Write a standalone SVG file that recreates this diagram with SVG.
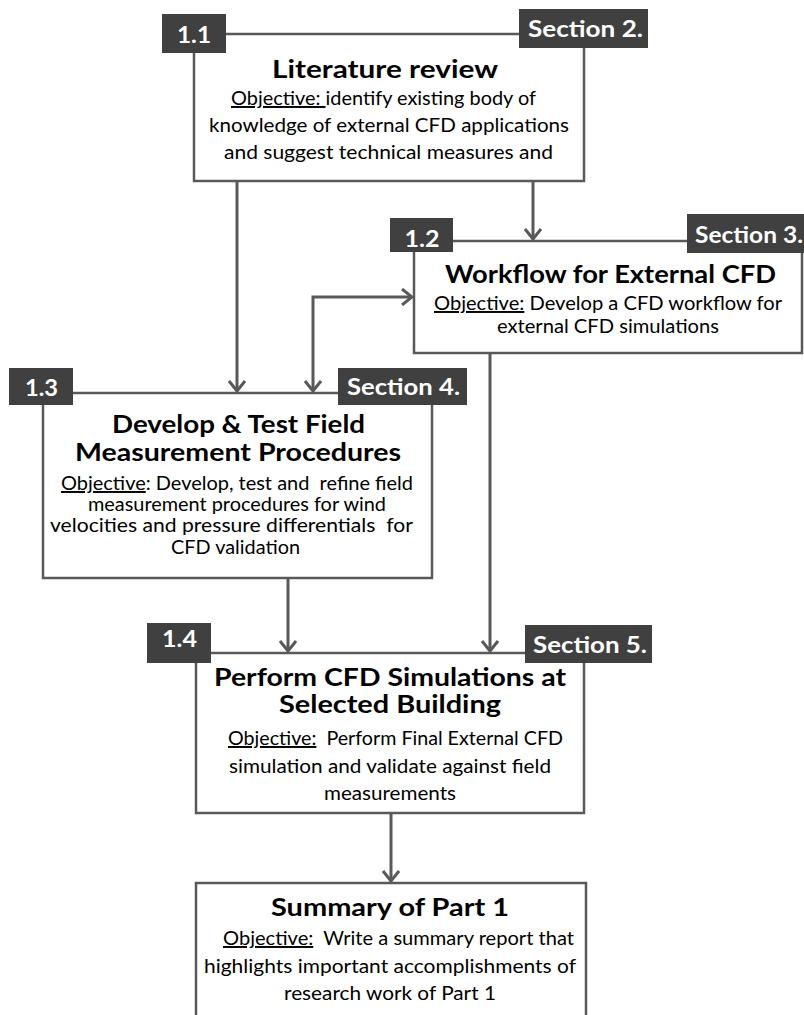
<svg xmlns="http://www.w3.org/2000/svg" width="804" height="1015" viewBox="0 0 804 1015">
<style>
.box{fill:#fff;stroke:#595959;stroke-width:2.5}
.lbl{fill:#404040}
.lt{font-family:Lato,"Liberation Sans",sans-serif;font-weight:bold;font-size:23.5px;fill:#fff;text-anchor:middle}
.title{font-family:Lato,"Liberation Sans",sans-serif;font-weight:bold;font-size:25px;fill:#000;text-anchor:middle}
.body{font-family:Lato,"Liberation Sans",sans-serif;font-size:19.5px;fill:#000;text-anchor:middle}
.u{text-decoration:underline}
.con{fill:none;stroke:#595959;stroke-width:3}
</style>
<defs>
<marker id="ah" viewBox="0 0 12 18" refX="11" refY="9" markerWidth="12" markerHeight="18" markerUnits="userSpaceOnUse" orient="auto-start-reverse">
<path d="M1,1 L11,9 L1,17" fill="none" stroke="#595959" stroke-width="3"/>
</marker>
</defs>
<g id="connectors">
<line class="con" x1="237" y1="181" x2="237" y2="391" marker-end="url(#ah)"/>
<line class="con" x1="533" y1="181" x2="533" y2="239" marker-end="url(#ah)"/>
<path class="con" d="M313,391 L313,297 L412,297" marker-start="url(#ah)" marker-end="url(#ah)"/>
<line class="con" x1="490" y1="353" x2="490" y2="651" marker-end="url(#ah)"/>
<line class="con" x1="288" y1="578" x2="288" y2="651" marker-end="url(#ah)"/>
<line class="con" x1="391" y1="813" x2="391" y2="881" marker-end="url(#ah)"/>
</g>
<g id="node-1-1">
<rect class="box" x="194" y="34" width="390" height="147"/>
<rect class="lbl" x="162" y="14" width="64" height="39"/>
<text class="lt" x="194" y="43" textLength="34" lengthAdjust="spacingAndGlyphs">1.1</text>
<rect class="lbl" x="519" y="9" width="129" height="39"/>
<text class="lt" x="585.5" y="37" textLength="115" lengthAdjust="spacingAndGlyphs">Section 2.</text>
<text class="title" x="385" y="78" textLength="226" lengthAdjust="spacingAndGlyphs">Literature review</text>
<text class="body" x="383.5" y="105" textLength="305" lengthAdjust="spacingAndGlyphs" xml:space="preserve"><tspan class="u">Objective: </tspan>identify existing body of</text>
<text class="body" x="389" y="132" textLength="360" lengthAdjust="spacingAndGlyphs">knowledge of external CFD applications</text>
<text class="body" x="388.5" y="159" textLength="329" lengthAdjust="spacingAndGlyphs">and suggest technical measures and</text>
</g>
<g id="node-1-2">
<rect class="box" x="414" y="241" width="388" height="112"/>
<rect class="lbl" x="390" y="218" width="63" height="34"/>
<text class="lt" x="422" y="247" textLength="35" lengthAdjust="spacingAndGlyphs">1.2</text>
<rect class="lbl" x="687" y="214" width="130" height="39"/>
<text class="lt" x="749" y="243" textLength="108" lengthAdjust="spacingAndGlyphs">Section 3.</text>
<text class="title" x="610.5" y="283" textLength="331" lengthAdjust="spacingAndGlyphs">Workflow for External CFD</text>
<text class="body" x="608" y="310" textLength="348" lengthAdjust="spacingAndGlyphs"><tspan class="u">Objective:</tspan> Develop a CFD workflow for</text>
<text class="body" x="608" y="333" textLength="222" lengthAdjust="spacingAndGlyphs">external CFD simulations</text>
</g>
<g id="node-1-3">
<rect class="box" x="43" y="393" width="389" height="185"/>
<rect class="lbl" x="9" y="368" width="64" height="37"/>
<text class="lt" x="41.5" y="396" textLength="33" lengthAdjust="spacingAndGlyphs">1.3</text>
<rect class="lbl" x="338" y="368" width="129" height="37"/>
<text class="lt" x="403.5" y="395" textLength="113" lengthAdjust="spacingAndGlyphs">Section 4.</text>
<text class="title" x="238.5" y="433" textLength="253" lengthAdjust="spacingAndGlyphs">Develop &amp; Test Field</text>
<text class="title" x="238" y="461" textLength="326" lengthAdjust="spacingAndGlyphs">Measurement Procedures</text>
<text class="body" x="237" y="490" textLength="352" lengthAdjust="spacingAndGlyphs" xml:space="preserve"><tspan class="u">Objective</tspan>: Develop, test and  refine field</text>
<text class="body" x="237" y="511" textLength="298" lengthAdjust="spacingAndGlyphs">measurement procedures for wind</text>
<text class="body" x="231.5" y="532" textLength="363" lengthAdjust="spacingAndGlyphs" xml:space="preserve">velocities and pressure differentials  for</text>
<text class="body" x="235.5" y="554" textLength="129" lengthAdjust="spacingAndGlyphs">CFD validation</text>
</g>
<g id="node-1-4">
<rect class="box" x="196" y="653" width="388" height="160"/>
<rect class="lbl" x="147" y="623" width="64" height="40"/>
<text class="lt" x="179.5" y="647" textLength="35" lengthAdjust="spacingAndGlyphs">1.4</text>
<rect class="lbl" x="525" y="625" width="127" height="38"/>
<text class="lt" x="590" y="653" textLength="114" lengthAdjust="spacingAndGlyphs">Section 5.</text>
<text class="title" x="390" y="686" textLength="352" lengthAdjust="spacingAndGlyphs">Perform CFD Simulations at</text>
<text class="title" x="390" y="713" textLength="222" lengthAdjust="spacingAndGlyphs">Selected Building</text>
<text class="body" x="395.5" y="745" textLength="335" lengthAdjust="spacingAndGlyphs" xml:space="preserve"><tspan class="u">Objective:</tspan>  Perform Final External CFD</text>
<text class="body" x="390" y="773" textLength="322" lengthAdjust="spacingAndGlyphs">simulation and validate against field</text>
<text class="body" x="390" y="800" textLength="132" lengthAdjust="spacingAndGlyphs">measurements</text>
</g>
<g id="node-summary">
<rect class="box" x="196" y="883" width="390" height="140"/>
<text class="title" x="390" y="916" textLength="238" lengthAdjust="spacingAndGlyphs">Summary of Part 1</text>
<text class="body" x="398.5" y="945" textLength="351" lengthAdjust="spacingAndGlyphs" xml:space="preserve"><tspan class="u">Objective:</tspan>  Write a summary report that</text>
<text class="body" x="390" y="973" textLength="372" lengthAdjust="spacingAndGlyphs">highlights important accomplishments of</text>
<text class="body" x="390" y="1000" textLength="212" lengthAdjust="spacingAndGlyphs">research work of Part 1</text>
</g>
</svg>
